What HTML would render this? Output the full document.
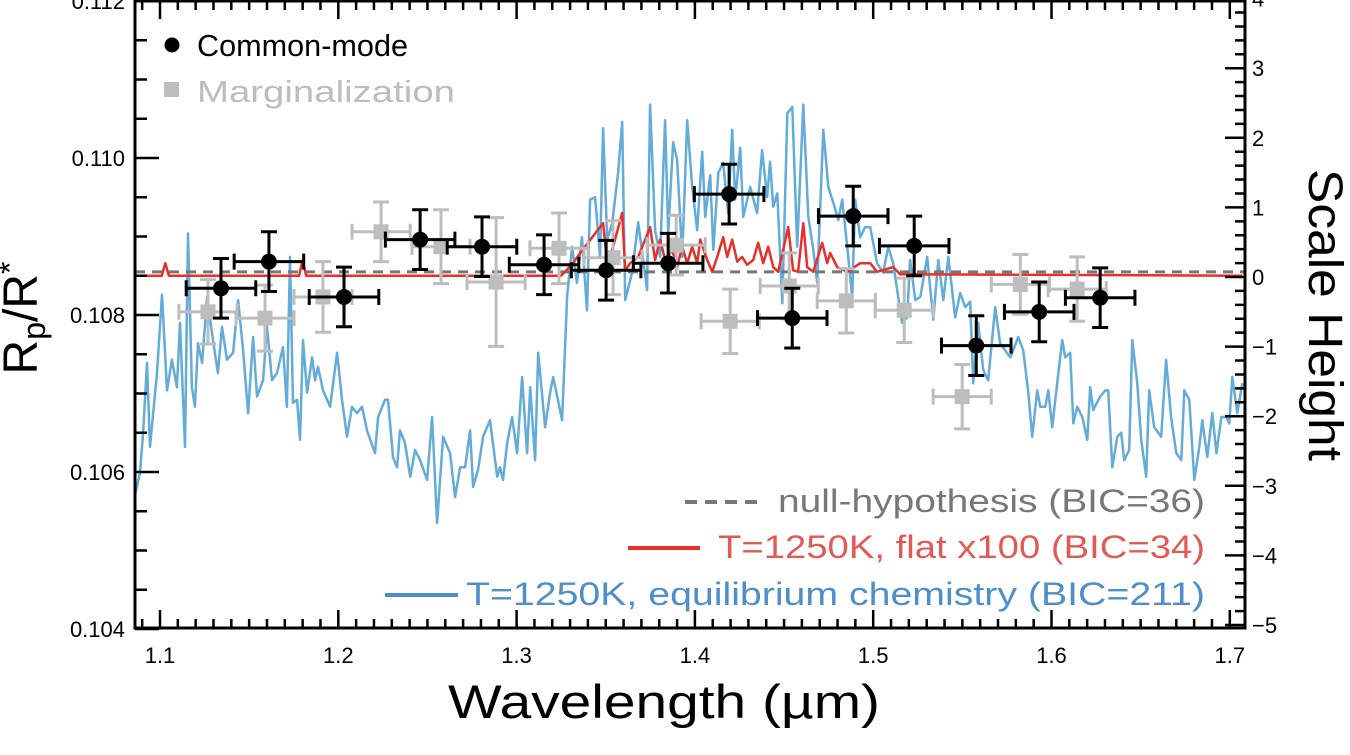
<!DOCTYPE html>
<html><head><meta charset="utf-8">
<style>
html,body{margin:0;padding:0;background:#fff;width:1350px;height:755px;overflow:hidden}
svg{display:block;font-family:"Liberation Sans",sans-serif}
</style></head>
<body>
<svg id="chart" width="1350" height="755" viewBox="0 0 1350 755" xmlns="http://www.w3.org/2000/svg">
<defs><clipPath id="plotclip"><rect x="135" y="1" width="1110" height="627"/></clipPath></defs>
<g id="models" clip-path="url(#plotclip)"></g>
<g id="points"></g>
<g id="axes"></g>
<text transform="translate(37,318) rotate(-90)" text-anchor="middle" font-size="48">R<tspan font-size="32" baseline-shift="-8">p</tspan>/R<tspan font-size="32" baseline-shift="16">*</tspan></text>
<text transform="translate(1309,315) rotate(90)" text-anchor="middle" font-size="48" textLength="292" lengthAdjust="spacingAndGlyphs">Scale Height</text>
<text x="664" y="718" text-anchor="middle" font-size="47" textLength="432" lengthAdjust="spacingAndGlyphs">Wavelength (µm)</text>
<g>
<circle cx="172" cy="45" r="7.5" fill="#000"/>
<text x="197" y="56" font-size="31" textLength="211" lengthAdjust="spacingAndGlyphs" fill="#000">Common-mode</text>
<rect x="164" y="82" width="15" height="15" fill="#bdbdbd"/>
<text x="197" y="102" font-size="31" textLength="258" lengthAdjust="spacingAndGlyphs" fill="#bdbdbd">Marginalization</text>
</g>
<g>
<line x1="685" y1="502" x2="760" y2="502" stroke="#777" stroke-width="4" stroke-dasharray="12,8"/>
<text x="778" y="512" font-size="32" textLength="427" lengthAdjust="spacingAndGlyphs" fill="#777">null-hypothesis (BIC=36)</text>
<line x1="628" y1="548" x2="700" y2="548" stroke="#e8302a" stroke-width="4"/>
<text x="718" y="558" font-size="32" textLength="487" lengthAdjust="spacingAndGlyphs" fill="#e25a55">T=1250K, flat x100 (BIC=34)</text>
<line x1="385" y1="595" x2="458" y2="595" stroke="#4a8fcb" stroke-width="4"/>
<text x="466" y="605" font-size="32" textLength="739" lengthAdjust="spacingAndGlyphs" fill="#4f8fc9">T=1250K, equilibrium chemistry (BIC=211)</text>
</g>
</svg>
<script>
const cmWave=[1.1342,1.1611,1.2032,1.2459,1.2806,1.3154,1.3502,1.3850,1.4192,1.4546,1.4888,1.5230,1.5578,1.5931,1.6273];
const cmDepth=[0.10834,0.10868,0.10823,0.10896,0.10887,0.10864,0.10857,0.10866,0.10954,0.10796,0.10926,0.10888,0.10761,0.10804,0.10822];
const cmErr=[0.00038,0.00038,0.00038,0.00038,0.00038,0.00038,0.00038,0.00038,0.00038,0.00038,0.00038,0.00038,0.00038,0.00038,0.00038];
const mgWave=[1.1269,1.1589,1.1914,1.2240,1.2576,1.2885,1.3238,1.3541,1.3895,1.4198,1.4529,1.4849,1.5174,1.5499,1.5825,1.6144];
const mgDepth=[0.10804,0.10796,0.10823,0.10906,0.10887,0.10842,0.10885,0.10873,0.10889,0.10792,0.10837,0.10818,0.10806,0.10696,0.10839,0.10833];
const mgErr=[0.00041,0.00042,0.00045,0.00038,0.00047,0.00082,0.00045,0.00047,0.00038,0.00041,0.00042,0.00041,0.00041,0.00041,0.00038,0.00041];
const binHalf=0.0195, mgBinHalf=0.0163;
const nullDepth=0.10855;
const flatWave=[1.087,1.101,1.103,1.105,1.178,1.180,1.182,1.325,1.3317,1.3356,1.3485,1.3508,1.3541,1.3592,1.3609,1.3637,1.3682,1.3749,1.3777,1.3805,1.3833,1.3872,1.3900,1.3929,1.3957,1.3985,1.4013,1.4030,1.4069,1.4097,1.4125,1.4159,1.4181,1.4209,1.4237,1.4265,1.4293,1.4327,1.4355,1.4383,1.4411,1.4439,1.4467,1.4523,1.4551,1.4579,1.4608,1.4630,1.4664,1.4714,1.4742,1.4759,1.4798,1.4854,1.4927,1.4983,1.5022,1.5112,1.5151,1.707];
const flatDepth=[0.10850,0.10850,0.10866,0.10850,0.10850,0.10870,0.10850,0.10850,0.10866,0.10879,0.10917,0.10866,0.10887,0.10930,0.10857,0.10866,0.10874,0.10912,0.10870,0.10896,0.10870,0.10883,0.10861,0.10887,0.10866,0.10887,0.10866,0.10896,0.10870,0.10855,0.10874,0.10899,0.10874,0.10896,0.10868,0.10874,0.10864,0.10870,0.10892,0.10866,0.10887,0.10861,0.10855,0.10912,0.10857,0.10855,0.10917,0.10861,0.10855,0.10892,0.10866,0.10879,0.10861,0.10855,0.10866,0.10866,0.10855,0.10861,0.10852,0.10850];
const eqWave=[1.0849,1.0888,1.0905,1.0927,1.0944,1.0983,1.1011,1.1039,1.1067,1.1095,1.1112,1.1140,1.1157,1.1179,1.1196,1.1213,1.1236,1.1264,1.1297,1.1325,1.1348,1.1376,1.1410,1.1438,1.1466,1.1494,1.1522,1.1544,1.1578,1.1600,1.1628,1.1656,1.1690,1.1712,1.1729,1.1746,1.1769,1.1785,1.1802,1.1825,1.1853,1.1870,1.1886,1.1914,1.1954,1.1993,1.2021,1.2049,1.2077,1.2105,1.2133,1.2161,1.2206,1.2223,1.2262,1.2279,1.2307,1.2330,1.2346,1.2374,1.2403,1.2431,1.2459,1.2498,1.2526,1.2554,1.2588,1.2627,1.2655,1.2683,1.2711,1.2739,1.2756,1.2784,1.2812,1.2851,1.2891,1.2907,1.2924,1.2947,1.2975,1.3003,1.3031,1.3059,1.3076,1.3104,1.3121,1.3160,1.3188,1.3205,1.3255,1.3283,1.3311,1.3339,1.3367,1.3395,1.3412,1.3440,1.3468,1.3485,1.3508,1.3536,1.3569,1.3592,1.3609,1.3648,1.3682,1.3732,1.3749,1.3777,1.3805,1.3833,1.3850,1.3878,1.3900,1.3929,1.3957,1.3985,1.4013,1.4041,1.4058,1.4086,1.4103,1.4131,1.4159,1.4187,1.4209,1.4226,1.4254,1.4271,1.4310,1.4349,1.4377,1.4405,1.4422,1.4439,1.4462,1.4490,1.4518,1.4546,1.4574,1.4608,1.4636,1.4664,1.4686,1.4720,1.4748,1.4776,1.4804,1.4826,1.4854,1.4882,1.4899,1.4927,1.4955,1.4983,1.5022,1.5056,1.5084,1.5112,1.5162,1.5190,1.5207,1.5236,1.5264,1.5303,1.5337,1.5365,1.5393,1.5421,1.5460,1.5488,1.5516,1.5544,1.5561,1.5589,1.5617,1.5645,1.5684,1.5712,1.5740,1.5769,1.5785,1.5813,1.5841,1.5869,1.5892,1.5920,1.5937,1.5965,1.5982,1.6004,1.6032,1.6060,1.6077,1.6105,1.6122,1.6144,1.6173,1.6201,1.6217,1.6234,1.6273,1.6301,1.6318,1.6341,1.6369,1.6391,1.6408,1.6436,1.6453,1.6481,1.6503,1.6531,1.6548,1.6576,1.6615,1.6643,1.6671,1.6700,1.6728,1.6745,1.6773,1.6801,1.6829,1.6846,1.6874,1.6902,1.6925,1.6953,1.6981,1.6997,1.7014,1.7042,1.7070];
const eqDepth=[0.10560,0.10599,0.10650,0.10739,0.10632,0.10726,0.10826,0.10704,0.10743,0.10708,0.10790,0.10632,0.10904,0.10708,0.10683,0.10764,0.10739,0.10823,0.10768,0.10726,0.10785,0.10743,0.10752,0.10819,0.10755,0.10675,0.10772,0.10696,0.10717,0.10785,0.10717,0.10726,0.10759,0.10683,0.10874,0.10688,0.10692,0.10641,0.10768,0.10701,0.10746,0.10717,0.10734,0.10704,0.10683,0.10752,0.10692,0.10645,0.10683,0.10675,0.10683,0.10653,0.10624,0.10670,0.10692,0.10692,0.10619,0.10606,0.10653,0.10637,0.10594,0.10628,0.10615,0.10590,0.10670,0.10535,0.10645,0.10624,0.10568,0.10606,0.10606,0.10653,0.10581,0.10603,0.10645,0.10666,0.10594,0.10606,0.10590,0.10637,0.10670,0.10624,0.10721,0.10624,0.10708,0.10615,0.10752,0.10657,0.10701,0.10721,0.10666,0.10823,0.10887,0.10841,0.10899,0.10806,0.10947,0.10950,0.10874,0.11038,0.10896,0.10917,0.10981,0.11046,0.10819,0.10854,0.10918,0.10832,0.11068,0.10908,0.10874,0.11048,0.10904,0.11020,0.10998,0.10874,0.11048,0.10963,0.10908,0.11008,0.10925,0.10978,0.10883,0.10981,0.10994,0.10930,0.11036,0.10947,0.11013,0.10925,0.10963,0.10930,0.11010,0.10950,0.10995,0.10938,0.10955,0.10815,0.11057,0.11065,0.10887,0.11068,0.10925,0.10883,0.10841,0.11036,0.10963,0.10943,0.10921,0.10947,0.10887,0.10823,0.10947,0.10899,0.10912,0.10912,0.10866,0.10854,0.10887,0.10866,0.10790,0.10797,0.10870,0.10819,0.10823,0.10874,0.10794,0.10870,0.10819,0.10874,0.10797,0.10828,0.10810,0.10817,0.10713,0.10790,0.10730,0.10717,0.10810,0.10764,0.10755,0.10746,0.10755,0.10772,0.10755,0.10704,0.10645,0.10704,0.10683,0.10683,0.10704,0.10657,0.10713,0.10768,0.10746,0.10752,0.10662,0.10683,0.10670,0.10641,0.10708,0.10679,0.10696,0.10704,0.10704,0.10606,0.10645,0.10650,0.10615,0.10628,0.10768,0.10713,0.10641,0.10594,0.10704,0.10657,0.10645,0.10743,0.10670,0.10624,0.10615,0.10704,0.10692,0.10590,0.10632,0.10666,0.10619,0.10675,0.10624,0.10670,0.10670,0.10662,0.10721,0.10675,0.10713];
const xTicks=[1.1,1.2,1.3,1.4,1.5,1.6,1.7];
const xTickLabels=["1.1","1.2","1.3","1.4","1.5","1.6","1.7"];
const yTicks=[0.104,0.106,0.108,0.110,0.112];
const yTickLabels=["0.104","0.106","0.108","0.110","0.112"];
const y2Ticks=[-5,-4,-3,-2,-1,0,1,2,3,4];
const y2TickLabels=["\u22125","\u22124","\u22123","\u22122","\u22121","0","1","2","3","4"];

const L=135,R=1245,T=1,B=628;
const xs=v=>160+(v-1.1)*1783;
const ys=v=>315-(v-0.108)*78500;
const y2s=h=>277-h*69.6;
const NS="http://www.w3.org/2000/svg";
function mk(tag,attrs,parent){const e=document.createElementNS(NS,tag);for(const k in attrs)e.setAttribute(k,attrs[k]);parent.appendChild(e);return e;}
const models=document.getElementById('models'),pts=document.getElementById('points'),axes=document.getElementById('axes');

function pathOf(xa,ya){return xa.map((x,i)=>(i?'L':'M')+xs(x).toFixed(1)+','+ys(ya[i]).toFixed(1)).join('');}
let p=mk('path',{d:pathOf(eqWave,eqDepth),fill:'none',stroke:'#63acd9','stroke-width':2.5,'stroke-linejoin':'round'},models);


p=mk('line',{x1:L,x2:R,y1:ys(nullDepth),y2:ys(nullDepth),stroke:'#777','stroke-width':3,'stroke-dasharray':'10,7'},models);


p=mk('path',{d:pathOf(flatWave,flatDepth),fill:'none',stroke:'#e8302a','stroke-width':2.5,'stroke-linejoin':'round'},models);



function errPt(x,y,e,hw,col,i,kind){
  const g=mk('g',{},pts);
  
  
  const cx=xs(x),cy=ys(y),x1=xs(x-hw),x2=xs(x+hw),y1=ys(y+e),y2=ys(y-e);
  const a={stroke:col,'stroke-width':3,fill:'none'};
  mk('path',Object.assign({d:`M${x1},${cy}H${x2}M${x1},${cy-8}V${cy+8}M${x2},${cy-8}V${cy+8}M${cx},${y1}V${y2}M${cx-8},${y1}H${cx+8}M${cx-8},${y2}H${cx+8}`},a),g);
  if(kind==='marginalization') mk('rect',{x:cx-7.5,y:cy-7.5,width:15,height:15,fill:col},g);
  else mk('circle',{cx:cx,cy:cy,r:8,fill:col},g);
}
mgWave.forEach((w,i)=>errPt(w,mgDepth[i],mgErr[i],mgBinHalf,'#bdbdbd',i,'marginalization'));
cmWave.forEach((w,i)=>errPt(w,cmDepth[i],cmErr[i],binHalf,'#000',i,'common-mode'));

let fr=mk('rect',{x:L,y:T,width:R-L,height:B-T,fill:'none',stroke:'#000','stroke-width':3},axes);


let tk='';
for(let v=1.09;v<=1.7051;v+=0.01){const x=xs(v);const maj=Math.abs(v*10-Math.round(v*10))<1e-6;const l=maj?18:9;tk+=`M${x},${B}V${B-l}M${x},${T}V${T+l}`;}
for(let v=0.104;v<=0.11201;v+=0.0005){const y=ys(v);const maj=Math.abs(v*500-Math.round(v*500))<1e-6;tk+=`M${L},${y}H${L+(maj?24:12)}`;}
for(let h=-5;h<=4.001;h+=0.2){const y=y2s(h);const maj=Math.abs(h-Math.round(h))<1e-6;tk+=`M${R},${y}H${R-(maj?20:10)}`;}
mk('path',{d:tk,stroke:'#000','stroke-width':2.5,fill:'none'},axes);
xTicks.forEach((v,i)=>{const t=mk('text',{x:xs(v),y:663,'text-anchor':'middle','font-size':22},axes);t.textContent=xTickLabels[i];

});
yTicks.forEach((v,i)=>{const t=mk('text',{x:125,y:ys(v)+8,'text-anchor':'end','font-size':22},axes);t.textContent=yTickLabels[i];

});
y2Ticks.forEach((v,i)=>{const t=mk('text',{x:1252,y:y2s(v)+8,'text-anchor':'start','font-size':22},axes);t.textContent=y2TickLabels[i];

});
</script>
</body></html>
